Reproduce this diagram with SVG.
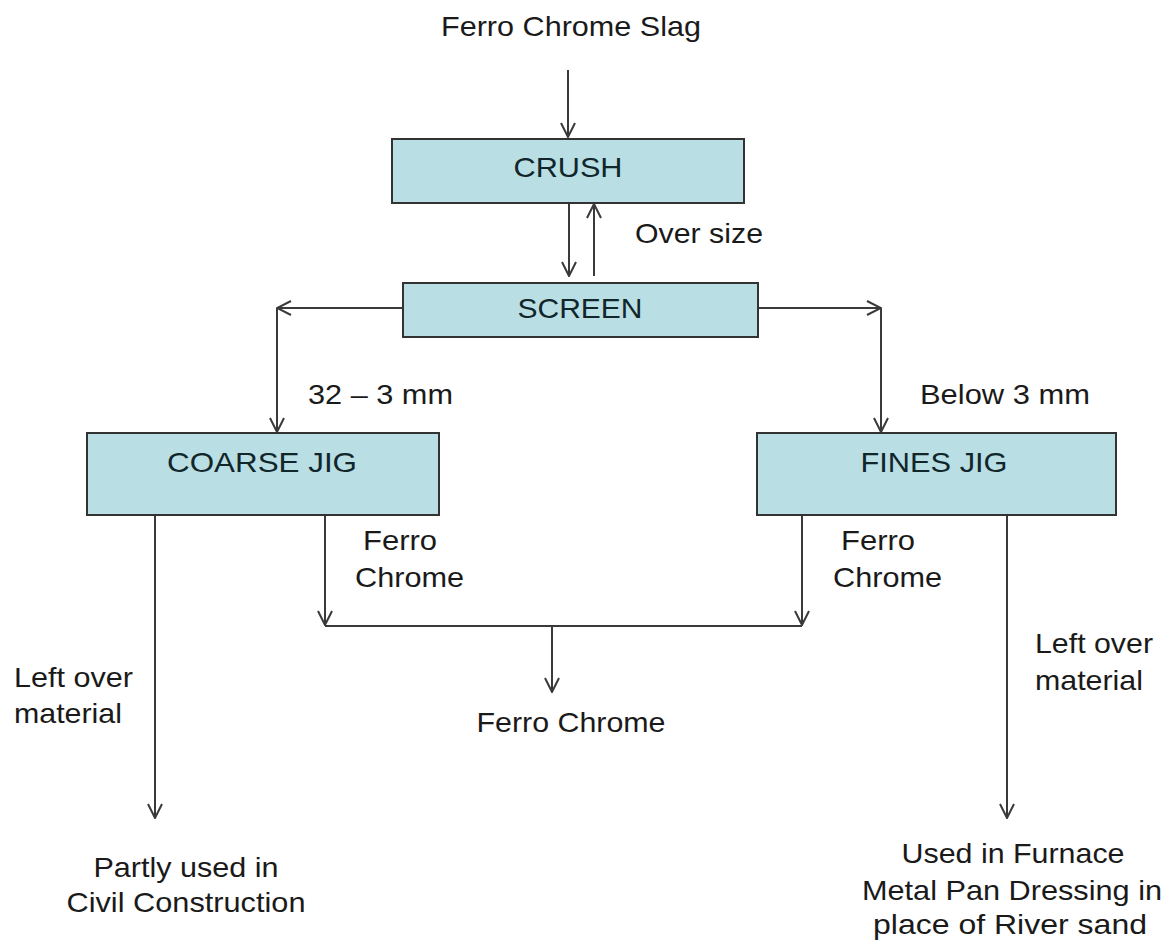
<svg xmlns="http://www.w3.org/2000/svg" width="1169" height="941" viewBox="0 0 1169 941">
<style>
.box{fill:#b9dee3;stroke:#333;stroke-width:2}
.t{font-family:"Liberation Sans",Arial,sans-serif;font-size:28px;fill:#1a1a1a}
.bt{font-family:"Liberation Sans",Arial,sans-serif;font-size:28px;fill:#10262b;text-anchor:middle}
.c{text-anchor:middle}
.ln{fill:none;stroke:#3a3a3a;stroke-width:2}
</style>
<defs>
<marker id="ah" viewBox="0 0 16 16" markerWidth="16" markerHeight="16" refX="15" refY="8" orient="auto" markerUnits="userSpaceOnUse">
<path d="M1,1 L15,8 L1,15" fill="none" stroke="#3a3a3a" stroke-width="2"/>
</marker>
</defs>
<rect width="1169" height="941" fill="#fff"/>

<g id="connectors">
<line class="ln" x1="568" y1="70" x2="568" y2="137" marker-end="url(#ah)"/>
<line class="ln" x1="569" y1="203" x2="569" y2="276" marker-end="url(#ah)"/>
<line class="ln" x1="594" y1="276" x2="594" y2="204" marker-end="url(#ah)"/>
<line class="ln" x1="403" y1="308" x2="277" y2="308" marker-end="url(#ah)"/>
<line class="ln" x1="277" y1="308" x2="277" y2="432" marker-end="url(#ah)"/>
<line class="ln" x1="758" y1="308" x2="881" y2="308" marker-end="url(#ah)"/>
<line class="ln" x1="881" y1="308" x2="881" y2="432" marker-end="url(#ah)"/>
<line class="ln" x1="155" y1="515" x2="155" y2="818" marker-end="url(#ah)"/>
<line class="ln" x1="325" y1="515" x2="325" y2="625" marker-end="url(#ah)"/>
<line class="ln" x1="802" y1="515" x2="802" y2="625" marker-end="url(#ah)"/>
<line class="ln" x1="1007" y1="515" x2="1007" y2="818" marker-end="url(#ah)"/>
<line class="ln" x1="325" y1="626" x2="802" y2="626"/>
<line class="ln" x1="552" y1="626" x2="552" y2="692" marker-end="url(#ah)"/>
</g>

<g id="source"><text class="t c" x="571" y="36" textLength="260" lengthAdjust="spacingAndGlyphs">Ferro Chrome Slag</text></g>
<g id="crush"><rect class="box" x="392" y="139" width="352" height="64"/><text class="bt" x="568" y="177" textLength="109" lengthAdjust="spacingAndGlyphs">CRUSH</text></g>
<g id="oversize"><text class="t" x="635" y="243" textLength="128" lengthAdjust="spacingAndGlyphs">Over size</text></g>
<g id="screen"><rect class="box" x="403" y="283" width="355" height="54"/><text class="bt" x="580" y="318" textLength="125" lengthAdjust="spacingAndGlyphs">SCREEN</text></g>
<g id="lbl-coarse"><text class="t" x="308" y="404" textLength="145" lengthAdjust="spacingAndGlyphs">32 – 3 mm</text></g>
<g id="lbl-fines"><text class="t" x="920" y="404" textLength="170" lengthAdjust="spacingAndGlyphs">Below 3 mm</text></g>
<g id="coarse-jig"><rect class="box" x="87" y="433" width="352" height="82"/><text class="bt" x="262" y="472" textLength="190" lengthAdjust="spacingAndGlyphs">COARSE JIG</text></g>
<g id="fines-jig"><rect class="box" x="757" y="433" width="359" height="82"/><text class="bt" x="934" y="472" textLength="147" lengthAdjust="spacingAndGlyphs">FINES JIG</text></g>
<g id="fc-left"><text class="t" x="363" y="550" textLength="74" lengthAdjust="spacingAndGlyphs">Ferro</text><text class="t" x="355" y="587" textLength="109" lengthAdjust="spacingAndGlyphs">Chrome</text></g>
<g id="fc-right"><text class="t" x="841" y="550" textLength="74" lengthAdjust="spacingAndGlyphs">Ferro</text><text class="t" x="833" y="587" textLength="109" lengthAdjust="spacingAndGlyphs">Chrome</text></g>
<g id="fc-out"><text class="t c" x="571" y="732" textLength="189" lengthAdjust="spacingAndGlyphs">Ferro Chrome</text></g>
<g id="lo-left"><text class="t" x="14" y="687" textLength="119" lengthAdjust="spacingAndGlyphs">Left over</text><text class="t" x="14" y="723" textLength="108" lengthAdjust="spacingAndGlyphs">material</text></g>
<g id="lo-right"><text class="t" x="1035" y="653" textLength="118" lengthAdjust="spacingAndGlyphs">Left over</text><text class="t" x="1035" y="690" textLength="108" lengthAdjust="spacingAndGlyphs">material</text></g>
<g id="civil"><text class="t c" x="186" y="877" textLength="185" lengthAdjust="spacingAndGlyphs">Partly used in</text><text class="t c" x="186" y="912" textLength="239" lengthAdjust="spacingAndGlyphs">Civil Construction</text></g>
<g id="furnace"><text class="t c" x="1013" y="863" textLength="223" lengthAdjust="spacingAndGlyphs">Used in Furnace</text><text class="t c" x="1012" y="900" textLength="300" lengthAdjust="spacingAndGlyphs">Metal Pan Dressing in</text><text class="t c" x="1010" y="934" textLength="274" lengthAdjust="spacingAndGlyphs">place of River sand</text></g>
</svg>
